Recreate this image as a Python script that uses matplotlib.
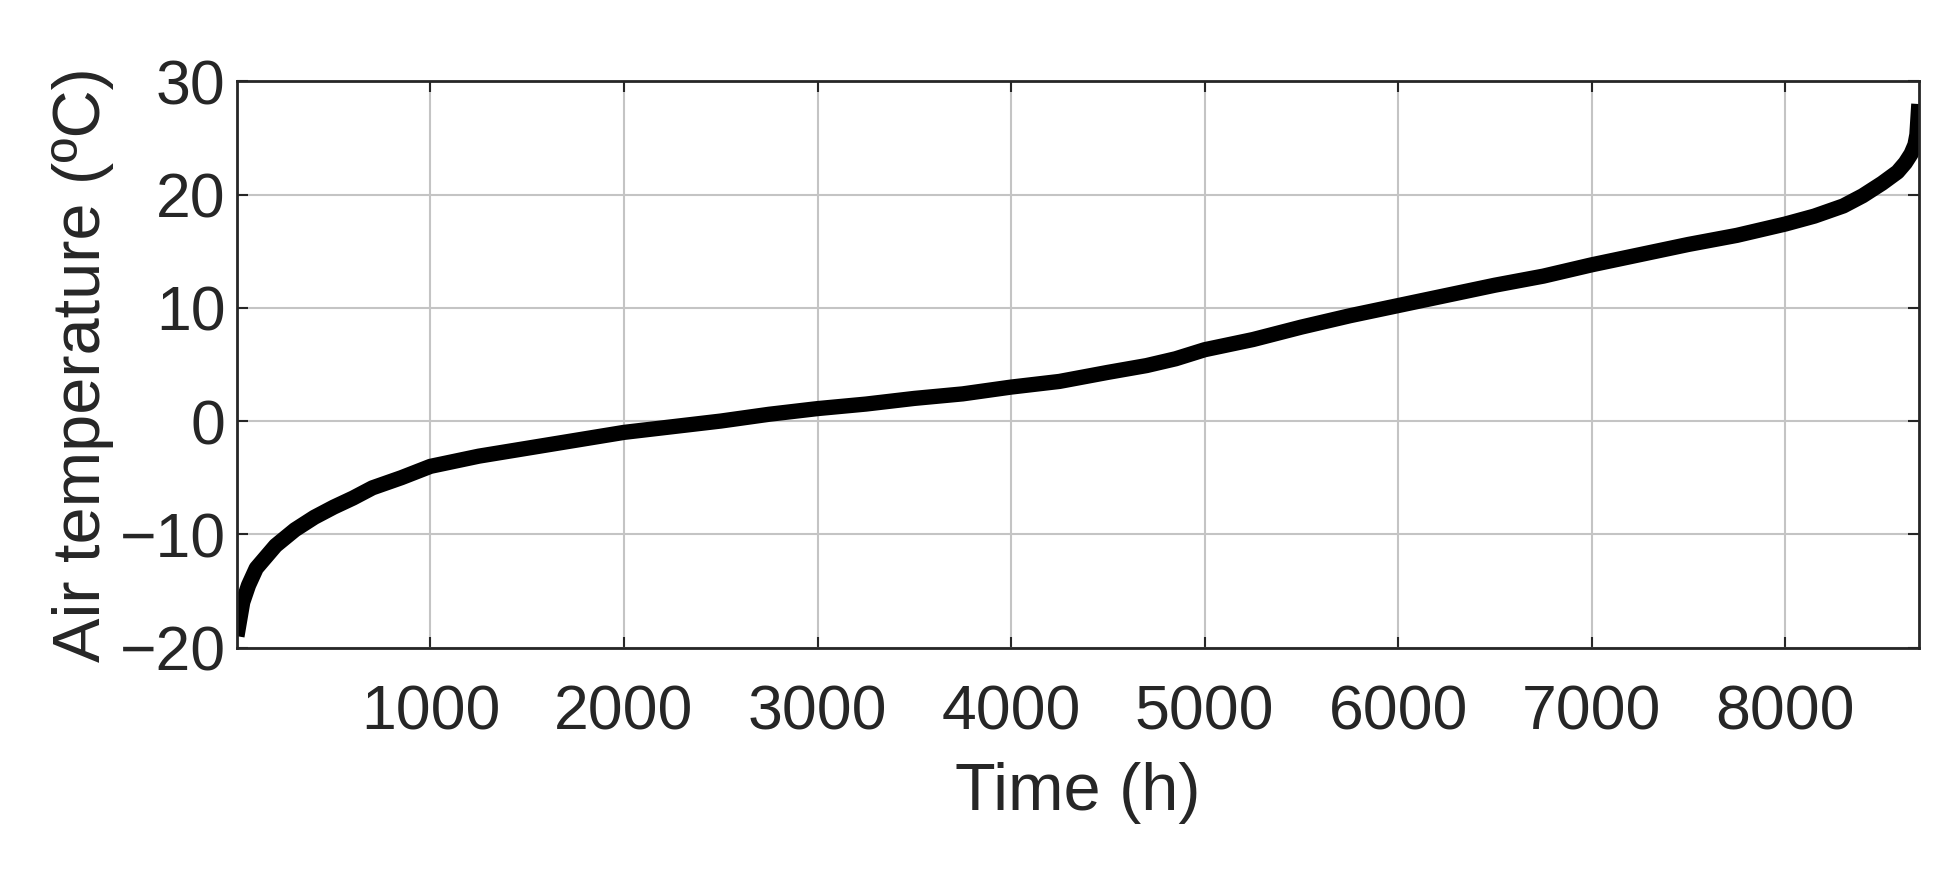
import matplotlib
matplotlib.use("Agg")
import matplotlib.pyplot as plt

hours = [0, 15, 30, 60, 100, 150, 200, 300, 400, 500, 600, 700, 850, 1000, 1250, 1500, 1750, 2000, 2250,
         2500, 2750, 3000, 3250, 3500, 3750, 4000, 4250, 4500, 4700, 4850,
         5000, 5250, 5500, 5750, 6000, 6250, 6500, 6750, 7000, 7250, 7500, 7750, 8000, 8150, 8300, 8400,
         8500, 8580, 8620, 8650, 8670, 8680, 8690]
temps = [-19, -17.5, -16, -14.5, -13, -12, -11, -9.6, -8.5, -7.6, -6.8, -5.9, -5.0, -4.0, -3.1, -2.4, -1.7, -1.0, -0.5,
         0.0, 0.6, 1.1, 1.5, 2.0, 2.4, 3.0, 3.5, 4.3, 4.9, 5.5,
         6.3, 7.2, 8.3, 9.3, 10.2, 11.1, 12.0, 12.8, 13.8, 14.7, 15.6, 16.4, 17.4, 18.1, 19.0, 19.9,
         21.0, 22.0, 22.8, 23.6, 24.4, 25.3, 28]
xticks = [1000, 2000, 3000, 4000, 5000, 6000, 7000, 8000]
yticks = [-20, -10, 0, 10, 20, 30]

plt.rcParams['font.family'] = ['Liberation Sans', 'DejaVu Sans']
c = "#262626"
fig = plt.figure(figsize=(19.58, 8.75), dpi=100)
ax = fig.add_axes([0.121, 0.26, 0.859, 0.647])
ax.plot(hours, temps, color="black", lw=11, solid_capstyle="butt")
ax.set_xlim(0, 8690)
ax.set_ylim(-20, 30)
ax.set_xticks(xticks)
ax.set_yticks(yticks)
ax.set_yticklabels(["\u221220", "\u221210", "0", "10", "20", "30"])
ax.grid(True, color="#c4c4c4", lw=1.5)
ax.tick_params(labelsize=45, colors=c, direction="in", length=8, width=1.5, right=True, top=True)
ax.tick_params(axis="x", pad=26)
ax.tick_params(axis="y", pad=8)
for s in ax.spines.values():
    s.set_linewidth(2); s.set_color(c)
ax.set_xlabel("Time (h)", fontsize=48, color=c, labelpad=14)
ax.set_ylabel("Air temperature (\u00baC)", fontsize=48, color=c, labelpad=4)
fig.savefig("out.png", dpi=100)
